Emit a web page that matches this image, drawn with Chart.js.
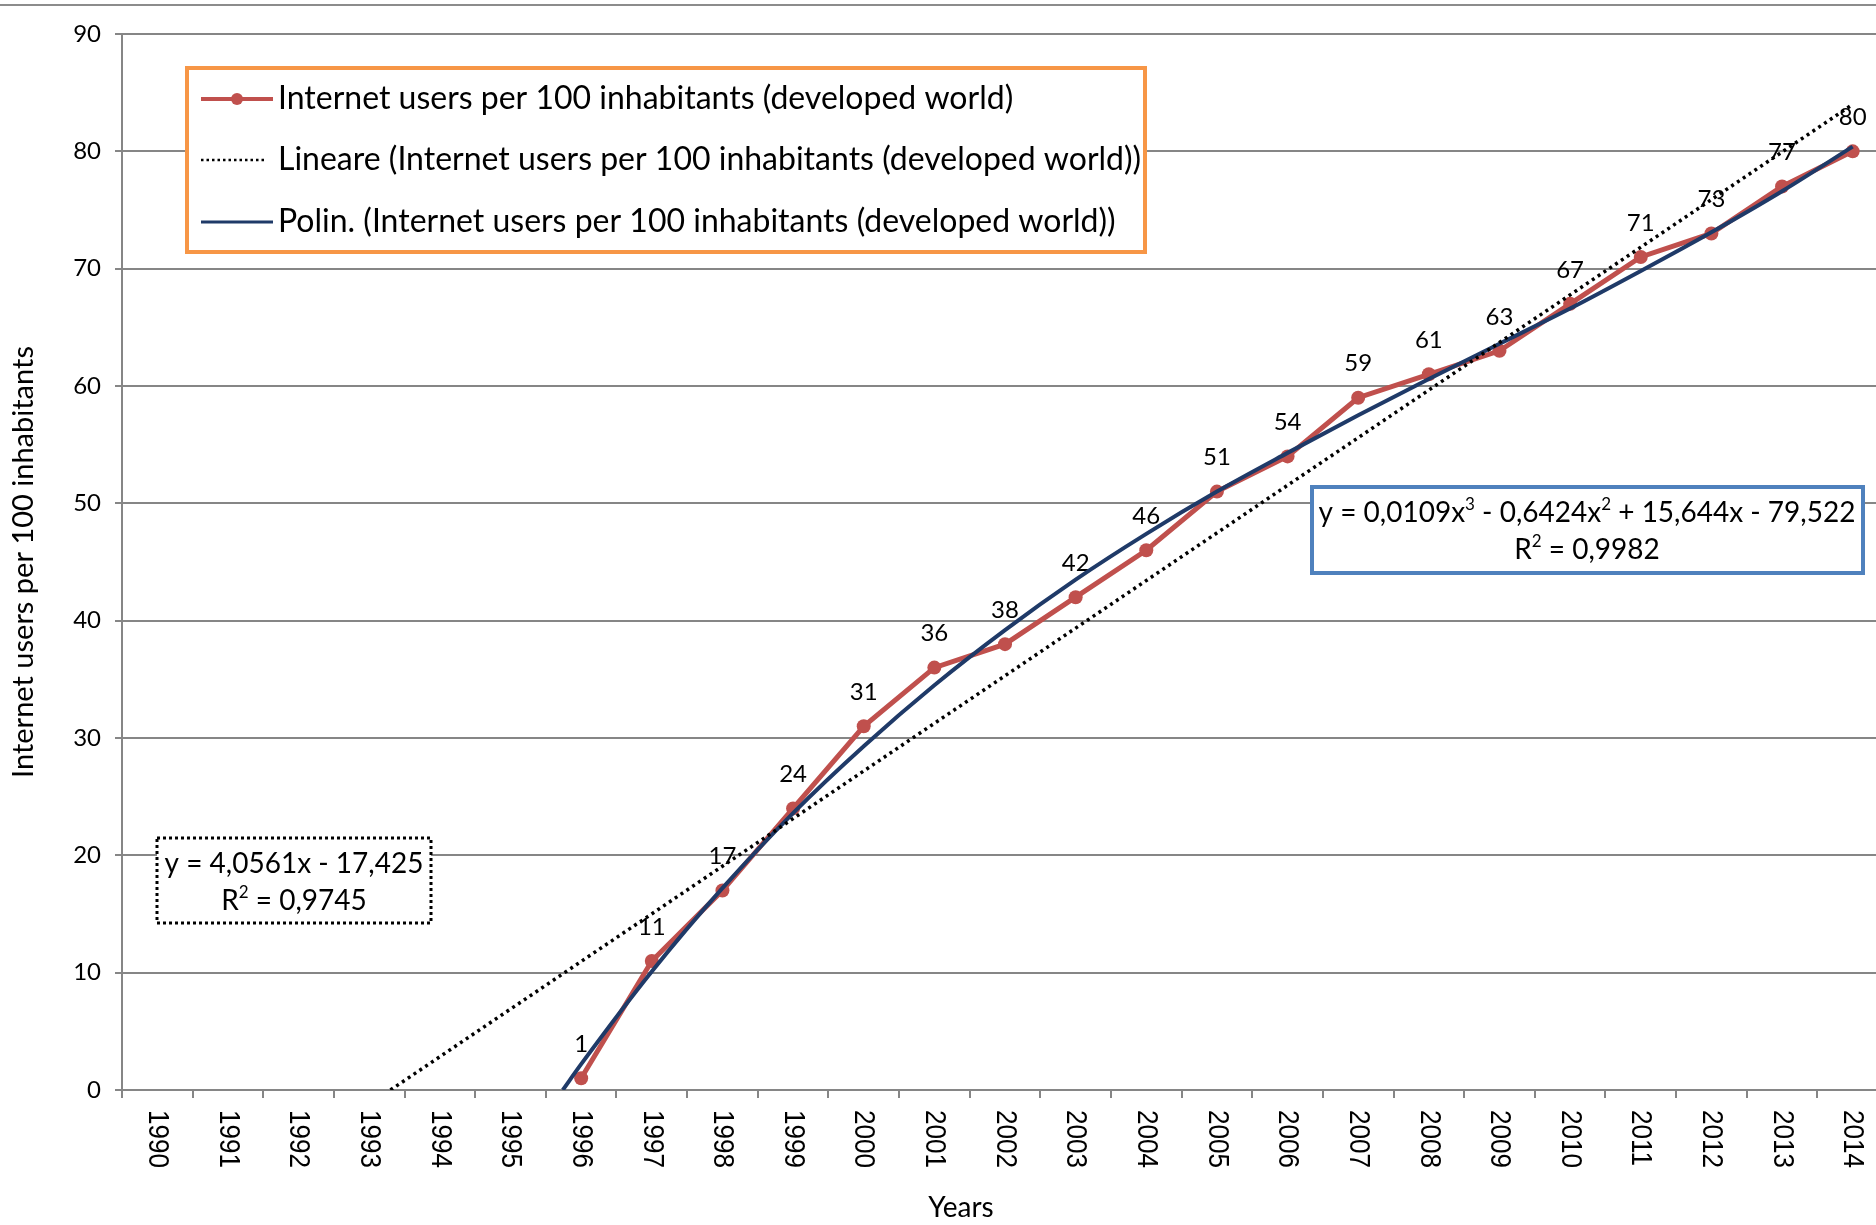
<!DOCTYPE html>
<html>
<head>
<meta charset="utf-8">
<title>Internet users per 100 inhabitants</title>
<script src="https://cdn.jsdelivr.net/npm/chart.js@4.4.1/dist/chart.umd.min.js"></script>
<style>
    html, body { margin: 0; padding: 0; background: #fff; overflow: hidden; }
    #wrap { position: relative; width: 1900px; height: 1225px; }
    #topLine { position: absolute; left: 0; top: 4px; width: 1876px; height: 2px; background: #8c8c8c; }
</style>
</head>
<body>
<div id="wrap">
    <canvas id="chart" width="1900" height="1225"></canvas>
    <div id="topLine"></div>
</div>
<script>
// Categories (x = 1 for 1990 ... 25 for 2014)
const years = ['1990', '1991', '1992', '1993', '1994', '1995', '1996', '1997', '1998', '1999',
    '2000', '2001', '2002', '2003', '2004', '2005', '2006', '2007', '2008', '2009',
    '2010', '2011', '2012', '2013', '2014'];

// Internet users per 100 inhabitants (developed world)
const usersPer100 = [null, null, null, null, null, null, 1, 11, 17, 24,
    31, 36, 38, 42, 46, 51, 54, 59, 61, 63,
    67, 71, 73, 77, 80];

// Linear trendline (ends of the dotted line)
const linearTrendX = [4.3, 25];
const linearTrendY = [0, 84];

// Polynomial trendline
const polyTrendX = [6.74, 7, 8, 9, 10, 11, 12, 13, 14, 15, 16, 17, 18, 19, 20, 21, 22, 23, 24, 25];
const polyTrendY = [0, 2.2, 10.1, 17.2, 23.6, 29.3, 34.5, 39.2, 43.5, 47.4, 51.0, 54.3, 57.5, 60.6, 63.6, 66.6, 69.8, 73.1, 76.6, 80.4];

const yTicks = [0, 10, 20, 30, 40, 50, 60, 70, 80, 90];

const legendLabels = [
    'Internet users per 100 inhabitants (developed world)',
    'Lineare (Internet users per 100 inhabitants (developed world))',
    'Polin. (Internet users per 100 inhabitants (developed world))'
];
const polyEquation = ['y = 0,0109x\u00B3 - 0,6424x\u00B2 + 15,644x - 79,522', 'R\u00B2 = 0,9982'];
const linearEquation = ['y = 4,0561x - 17,425', 'R\u00B2 = 0,9745'];

const RED = '#C0504D';
const NAVY = '#1F3A68';
const GRID = '#868686';
const FONT = 'Lato';

/**
 * Draw text centred at x, with ² and ³ drawn as raised small digits
 */
function drawEquation(ctx, text, cx, cy, size) {
    const parts = [];
    for (const ch of text) {
        const sup = ch === '\u00B2' ? '2' : ch === '\u00B3' ? '3' : null;
        const last = parts[parts.length - 1];
        if (sup) parts.push({ t: sup, sup: true });
        else if (last && !last.sup) last.t += ch;
        else parts.push({ t: ch, sup: false });
    }
    const normal = size + 'px ' + FONT;
    const small = Math.round(size * 0.62) + 'px ' + FONT;
    let total = 0;
    parts.forEach(p => {
        ctx.font = p.sup ? small : normal;
        p.w = ctx.measureText(p.t).width;
        total += p.w;
    });
    let x = cx - total / 2;
    ctx.textAlign = 'left';
    ctx.textBaseline = 'middle';
    parts.forEach(p => {
        ctx.font = p.sup ? small : normal;
        ctx.fillText(p.t, x, p.sup ? cy - size * 0.3 : cy);
        x += p.w;
    });
}

/**
 * Value labels above the red points
 */
const valueLabels = {
    id: 'valueLabels',
    beforeDatasetsDraw(chart) {
        const ctx = chart.ctx;
        const meta = chart.getDatasetMeta(0);
        ctx.save();
        ctx.font = '24px ' + FONT;
        ctx.fillStyle = '#000';
        ctx.textAlign = 'center';
        ctx.textBaseline = 'middle';
        meta.data.forEach((pt, i) => {
            const v = chart.data.datasets[0].data[i].y;
            if (v === null) return;
            ctx.fillText(String(v), pt.x, pt.y - 34);
        });
        ctx.restore();
    }
};

/**
 * Year labels, axis titles, legend and equation boxes
 */
const decorations = {
    id: 'decorations',
    afterDraw(chart) {
        const ctx = chart.ctx;
        const area = chart.chartArea;
        const xScale = chart.scales.x;

        ctx.save();
        // rotated year labels (read top to bottom), squeezed like a narrow face
        ctx.font = '30px "Liberation Sans"';
        ctx.fillStyle = '#000';
        ctx.textAlign = 'left';
        ctx.textBaseline = 'middle';
        years.forEach((yr, i) => {
            const x = xScale.getPixelForValue(i + 1);
            ctx.save();
            ctx.translate(x, area.bottom + 20);
            ctx.rotate(Math.PI / 2);
            ctx.scale(0.87, 1);
            ctx.fillText(yr, 0, 0);
            ctx.restore();
        });

        // axis titles
        ctx.font = '28px ' + FONT;
        ctx.textAlign = 'center';
        ctx.fillText('Years', 961, 1208);
        ctx.font = '29px ' + FONT;
        ctx.save();
        ctx.translate(24, (area.top + area.bottom) / 2);
        ctx.rotate(-Math.PI / 2);
        ctx.fillText('Internet users per 100 inhabitants', 0, 0);
        ctx.restore();

        // legend box
        ctx.fillStyle = '#fff';
        ctx.fillRect(187, 68, 958, 184);
        ctx.strokeStyle = '#F79646';
        ctx.lineWidth = 4;
        ctx.strokeRect(187, 68, 958, 184);

        const rows = [99, 160, 222];
        // sample 1: red line with marker
        ctx.strokeStyle = RED;
        ctx.lineWidth = 4;
        ctx.beginPath();
        ctx.moveTo(201, rows[0]);
        ctx.lineTo(273, rows[0]);
        ctx.stroke();
        ctx.fillStyle = RED;
        ctx.beginPath();
        ctx.arc(237, rows[0], 6, 0, Math.PI * 2);
        ctx.fill();
        // sample 2: dotted black
        ctx.strokeStyle = '#000';
        ctx.lineWidth = 2.5;
        ctx.setLineDash([2.5, 3]);
        ctx.beginPath();
        ctx.moveTo(201, rows[1]);
        ctx.lineTo(266, rows[1]);
        ctx.stroke();
        ctx.setLineDash([]);
        // sample 3: navy line
        ctx.strokeStyle = NAVY;
        ctx.lineWidth = 3;
        ctx.beginPath();
        ctx.moveTo(201, rows[2]);
        ctx.lineTo(273, rows[2]);
        ctx.stroke();

        ctx.fillStyle = '#000';
        ctx.font = '32px ' + FONT;
        ctx.textAlign = 'left';
        ctx.textBaseline = 'middle';
        legendLabels.forEach((txt, i) => ctx.fillText(txt, 278, rows[i]));

        // polynomial equation box
        ctx.fillStyle = '#fff';
        ctx.fillRect(1312, 487, 551, 86);
        ctx.strokeStyle = '#4F81BD';
        ctx.lineWidth = 4;
        ctx.strokeRect(1312, 487, 551, 86);
        ctx.fillStyle = '#000';
        drawEquation(ctx, polyEquation[0], 1587, 513, 28);
        drawEquation(ctx, polyEquation[1], 1587, 550, 28);

        // linear equation box
        ctx.fillStyle = '#fff';
        ctx.fillRect(157, 838, 274, 85);
        ctx.strokeStyle = '#000';
        ctx.lineWidth = 3;
        ctx.setLineDash([3, 3]);
        ctx.strokeRect(157, 838, 274, 85);
        ctx.setLineDash([]);
        ctx.fillStyle = '#000';
        drawEquation(ctx, linearEquation[0], 294, 864, 28);
        drawEquation(ctx, linearEquation[1], 294, 901, 28);

        ctx.restore();
    }
};

document.addEventListener('DOMContentLoaded', function() {
    Chart.defaults.font.family = FONT;
    Chart.defaults.color = '#000';

    const ctx = document.getElementById('chart').getContext('2d');
    new Chart(ctx, {
        type: 'line',
        data: {
            datasets: [
                {
                    label: legendLabels[0],
                    data: years.map((y, i) => ({ x: i + 1, y: usersPer100[i] })),
                    borderColor: RED,
                    backgroundColor: RED,
                    borderWidth: 5,
                    pointRadius: 7,
                    pointBorderWidth: 0,
                    pointBackgroundColor: RED,
                    order: 3
                },
                {
                    label: legendLabels[2],
                    data: polyTrendX.map((x, i) => ({ x: x, y: polyTrendY[i] })),
                    borderColor: NAVY,
                    borderWidth: 4,
                    pointRadius: 0,
                    cubicInterpolationMode: 'monotone',
                    order: 2
                },
                {
                    label: legendLabels[1],
                    data: linearTrendX.map((x, i) => ({ x: x, y: linearTrendY[i] })),
                    borderColor: '#000',
                    borderWidth: 3.5,
                    borderDash: [3, 4],
                    pointRadius: 0,
                    order: 1
                }
            ]
        },
        options: {
            responsive: false,
            animation: false,
            devicePixelRatio: 1,
            layout: { padding: { left: 0, top: 34, right: 12, bottom: 0 } },
            plugins: {
                legend: { display: false },
                tooltip: { enabled: false }
            },
            scales: {
                x: {
                    type: 'linear',
                    min: 0.5,
                    max: 25.5,
                    afterBuildTicks: scale => {
                        scale.ticks = years.map((y, i) => ({ value: i + 0.5 })).concat([{ value: 25.5 }]);
                    },
                    afterFit: scale => { scale.height = 135; },
                    ticks: { display: false },
                    grid: { drawOnChartArea: false, drawTicks: true, tickLength: 8, color: GRID, lineWidth: 2 },
                    border: { color: GRID, width: 2 }
                },
                y: {
                    min: 0,
                    max: 90,
                    afterBuildTicks: scale => {
                        scale.ticks = yTicks.map(v => ({ value: v }));
                    },
                    afterFit: scale => { scale.width = 122; },
                    ticks: { font: { size: 24 }, color: '#000', padding: 14 },
                    grid: { color: GRID, lineWidth: 2, tickLength: 7 },
                    border: { color: GRID, width: 2 }
                }
            }
        },
        plugins: [valueLabels, decorations]
    });
});
</script>
</body>
</html>
